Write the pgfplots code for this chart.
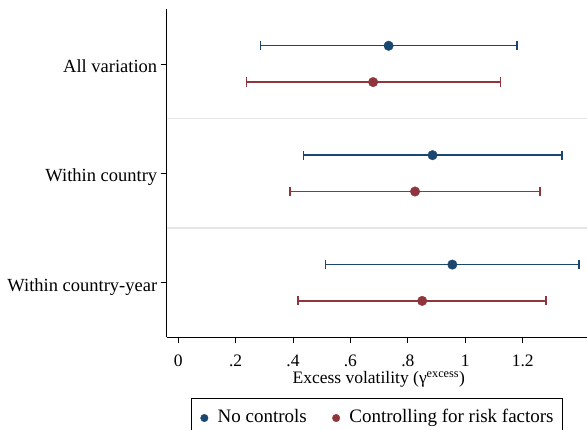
\documentclass[border=0pt]{standalone}
\usepackage{fontspec}
\setmainfont{Liberation Serif}
\usepackage{pgfplots}
\usepackage{pgfplotstable}
\pgfplotsset{compat=1.18}
\definecolor{snavy}{RGB}{26,71,111}
\definecolor{smaroon}{RGB}{144,53,59}
\pgfplotstableread{
y x lo hi
3.166 0.733 0.286 1.180
2.166 0.886 0.436 1.337
1.166 0.955 0.514 1.396
}\blueT
\pgfplotstableread{
y x lo hi
2.834 0.679 0.238 1.122
1.834 0.825 0.389 1.260
0.834 0.850 0.417 1.281
}\redT
\begin{document}
\begin{tikzpicture}
\begin{axis}[name=ax, scale only axis, width=420.3pt, height=328pt,
  xmin=-0.040, xmax=1.424, ymin=0.504, ymax=3.502,
  axis x line*=bottom, axis y line*=left,
  axis line style={-, black, line width=0.8pt},
  xtick={0,0.2,0.4,0.6,0.8,1,1.2}, xticklabels={0,.2,.4,.6,.8,1,1.2},
  ytick={1,2,3}, yticklabels={Within country-year, Within country, All variation},
  tick align=outside, major tick length=6pt,
  tick style={black, line width=0.8pt},
  extra y ticks={1.5,2.5}, extra y tick labels={},
  extra y tick style={grid=major, major tick length=0pt, grid style={black!10, line width=1.1pt}},
  /pgf/number format/assume math mode=true,
  xticklabel style={font=\fontsize{17.5}{21}\selectfont, anchor=base, yshift=-23pt},
  yticklabel style={font=\fontsize{18.5}{22}\selectfont, anchor=base east, yshift=-8.5pt},
  xlabel={Excess volatility (γ\textsuperscript{excess})},
  xlabel style={font=\fontsize{17.5}{21}\selectfont, at={(axis description cs:0.5,0)}, anchor=base, yshift=-46.3pt, xshift=2pt},
  legend columns=2,
  legend image code/.code={\path[draw=none] (0pt,0pt) -- (17.6pt,0pt); \draw[#1, mark size=3.8pt] plot[only marks] coordinates {(4.3pt,0pt)};},
  legend style={at={(0.5,-0.187)}, anchor=north, draw=black, line width=0.8pt,
    inner xsep=9pt, inner ysep=11pt,
    nodes={inner sep=0pt, text height=12.6pt, text depth=4pt},
    font=\fontsize{19}{22}\selectfont, /tikz/every even column/.append style={column sep=25pt}},
  clip=false,
]
\addplot[only marks, mark=*, mark size=4.8pt, color=snavy, mark options={fill=snavy, line width=0.3pt},
  error bars/.cd, x dir=both, x explicit, error mark=|,
  error bar style={line width=1.35pt, color=snavy},
  error mark options={mark size=4.6pt, line width=1.35pt, color=snavy}]
  table[x=x, y=y, x error plus expr=\thisrow{hi}-\thisrow{x}, x error minus expr=\thisrow{x}-\thisrow{lo}] {\blueT};
\addlegendentry{No controls}
\addplot[only marks, mark=*, mark size=4.8pt, color=smaroon, mark options={fill=smaroon, line width=0.3pt},
  error bars/.cd, x dir=both, x explicit, error mark=|,
  error bar style={line width=1.35pt, color=smaroon},
  error mark options={mark size=4.6pt, line width=1.35pt, color=smaroon}]
  table[x=x, y=y, x error plus expr=\thisrow{hi}-\thisrow{x}, x error minus expr=\thisrow{x}-\thisrow{lo}] {\redT};
\addlegendentry{Controlling for risk factors}
\end{axis}
\pgfresetboundingbox
\path[use as bounding box] (ax.south west) ++(-166.7pt,-92pt) rectangle ++(587pt,429pt);
\end{tikzpicture}
\end{document}
